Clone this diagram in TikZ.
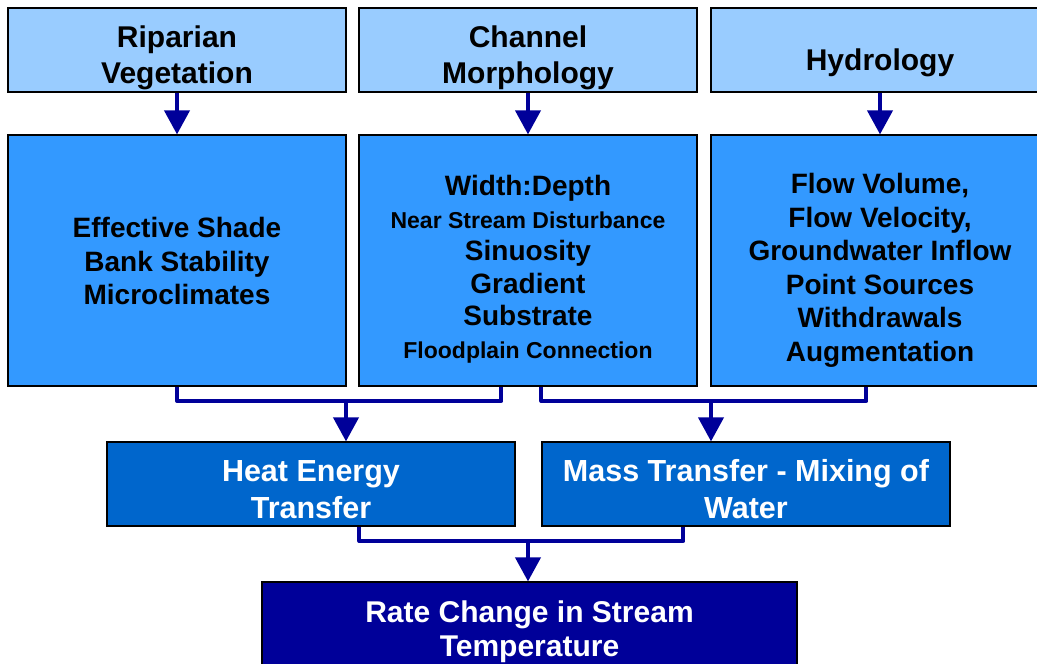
\documentclass[tikz,border=0pt]{standalone}
\usepackage{fontspec}
\setmainfont{Liberation Sans}
\usetikzlibrary{arrows.meta}
\definecolor{paleblue}{HTML}{99CCFF}
\definecolor{midblue}{HTML}{3399FF}
\definecolor{deepblue}{HTML}{0066CC}
\definecolor{navy}{HTML}{000099}
% strut on the first line, pushes the text block down by #1
\newcommand{\dropby}[1]{\rule{0pt}{\dimexpr0.72em+#1*2\relax}}
\begin{document}
\begin{tikzpicture}[x=1pt,y=-1pt,
  box/.style={draw=black,line width=1.2pt,inner sep=0pt,align=center},
  topbox/.style={box,fill=paleblue,minimum width=338pt,minimum height=84pt,
    font=\bfseries\fontsize{30}{36}\selectfont},
  factorbox/.style={box,fill=midblue,minimum width=338pt,minimum height=251pt,
    font=\bfseries\fontsize{28}{33.5}\selectfont},
  xferbox/.style={box,fill=deepblue,text=white,minimum width=408pt,minimum height=84pt,
    font=\bfseries\fontsize{30.5}{37}\selectfont},
  resultbox/.style={box,fill=navy,text=white,minimum width=535pt,minimum height=84pt,
    font=\bfseries\fontsize{30}{34}\selectfont},
  link/.style={draw=navy,line width=4pt,line join=round},
  feed/.style={link,-{Triangle[width=25pt,length=24pt]}}]
\useasboundingbox (0,0) rectangle (1037,664);
% top row
\node[topbox] (rip) at (177,50) {\dropby{8pt}Riparian\\Vegetation};
\node[topbox] (chan) at (528,50) {\dropby{8pt}Channel\\Morphology};
\node[topbox] (hyd) at (880,50) {\dropby{13pt}Hydrology};
% factors
\node[factorbox] (shade) at (177,260.5) {\dropby{1pt}Effective Shade\\Bank Stability\\Microclimates};
\node[factorbox,font=\bfseries\fontsize{28}{32.5}\selectfont] (morph) at (528,260.5)
  {\dropby{9pt}Width:Depth\\{\fontsize{23}{32.5}\selectfont Near Stream Disturbance}\\Sinuosity\\Gradient\\Substrate\\{\fontsize{23}{32.5}\selectfont Floodplain Connection}};
\node[factorbox] (flow) at (880,260.5) {\dropby{10pt}Flow Volume,\\Flow Velocity,\\Groundwater Inflow\\Point Sources\\Withdrawals\\Augmentation};
% transfer
\node[xferbox] (heat) at (311,484) {\dropby{5pt}Heat Energy\\Transfer};
\node[xferbox] (mass) at (746,484) {\dropby{5pt}Mass Transfer - Mixing of\\Water};
\node[resultbox] (rate) at (529.5,624) {\dropby{8pt}Rate Change in Stream\\Temperature};
% junctions
\coordinate (jh) at (346,401);
\coordinate (jm) at (711,401);
\coordinate (jr) at (528,541);
\draw[feed] (rip) -- (shade);
\draw[feed] (chan) -- (morph);
\draw[feed] (hyd) -- (flow);
\draw[link] (shade.south) |- (jh) -| ([xshift=143pt]morph.south west);
\draw[feed] (jh) -- (jh |- heat.north);
\draw[link] ([xshift=183pt]morph.south west) |- (jm) -| ([xshift=156pt]flow.south west);
\draw[feed] (jm) -- (jm |- mass.north);
\draw[link] ([xshift=253pt]heat.south west) |- (jr) -| ([xshift=142pt]mass.south west);
\draw[feed] (jr) -- (jr |- rate.north);
\end{tikzpicture}
\end{document}
